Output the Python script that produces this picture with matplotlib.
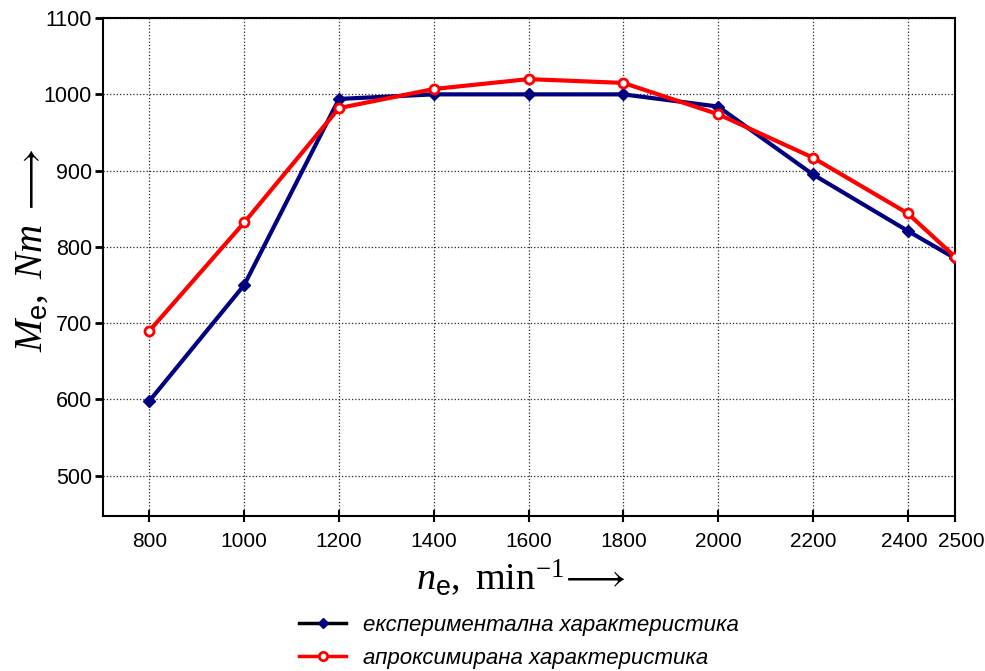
import matplotlib.pyplot as plt
import matplotlib.transforms as mtransforms
from matplotlib.lines import Line2D

# данни от графиката
n_e = [800, 1000, 1200, 1400, 1600, 1800, 2000, 2200, 2400, 2500]
M_exp = [598, 750, 994, 1000, 1000, 1000, 984, 895, 821, 785]
M_apr = [690, 832, 982, 1007, 1020, 1015, 974, 917, 844, 787]
x_ticks = [800, 1000, 1200, 1400, 1600, 1800, 2000, 2200, 2400, 2500]
y_ticks = [500, 600, 700, 800, 900, 1000, 1100]
labels = ['експериментална характеристика', 'апроксимирана характеристика']

plt.rcParams['font.family'] = ['Liberation Sans', 'DejaVu Sans']
plt.rcParams['mathtext.fontset'] = 'custom'
plt.rcParams['mathtext.rm'] = 'Liberation Serif'
plt.rcParams['mathtext.it'] = 'Liberation Serif:italic'
plt.rcParams['mathtext.sf'] = 'Liberation Sans'

fig = plt.figure(figsize=(9.85, 6.71), dpi=100)
ax = fig.add_axes([0.1046, 0.231, 0.865, 0.742])

ax.plot(n_e, M_exp, color='#000080', lw=3, marker='D', ms=6.5, zorder=3)
ax.plot(n_e, M_apr, color='#ff0000', lw=3, marker='o', ms=6.5,
        mfc='white', mec='#ff0000', mew=2, zorder=4)

ax.set_xlim(702, 2500)
ax.set_ylim(447, 1100)
ax.set_xticks(x_ticks)
ax.set_yticks(y_ticks)
ax.grid(True, color='0.15', linestyle=':', linewidth=0.9)
ax.tick_params(axis='y', direction='out', length=6, width=2, labelsize=15.5, pad=2)
ax.tick_params(axis='x', direction='inout', length=9, width=1.5, labelsize=15, pad=7)
for s in ax.spines.values():
    s.set_linewidth(1.5)

# 2500 е малко изместено надясно, за да не се слива с 2400
fig.canvas.draw()
tl = ax.get_xticklabels()
tl[-1].set_transform(tl[-1].get_transform() + mtransforms.ScaledTranslation(0.06, 0, fig.dpi_scale_trans))
tl[-2].set_transform(tl[-2].get_transform() + mtransforms.ScaledTranslation(-0.03, 0, fig.dpi_scale_trans))

ax.set_xlabel(r'$n_{\mathsf{e}},\ \mathrm{min}^{-1}\!\longrightarrow$', fontsize=27.5)
ax.set_ylabel(r'$M_{\mathsf{e}},\ Nm\ \longrightarrow$', fontsize=28)
ax.xaxis.set_label_coords(0.49, -0.082)
ax.yaxis.set_label_coords(-0.062, 0.534)

handles = [
    Line2D([], [], color='black', lw=2.5, marker='D', ms=5.5, mfc='#000080', mec='#000080'),
    Line2D([], [], color='#ff0000', lw=2.5, marker='o', ms=6, mfc='white',
           mec='#ff0000', mew=2),
]
fig.legend(handles, labels, loc='upper center', bbox_to_anchor=(0.527, 0.1036), frameon=False,
           prop={'style': 'italic', 'size': 16}, handlelength=2.1, handletextpad=0.75,
           labelspacing=0.55, borderaxespad=0.2)

fig.savefig('out.png', dpi=100)
